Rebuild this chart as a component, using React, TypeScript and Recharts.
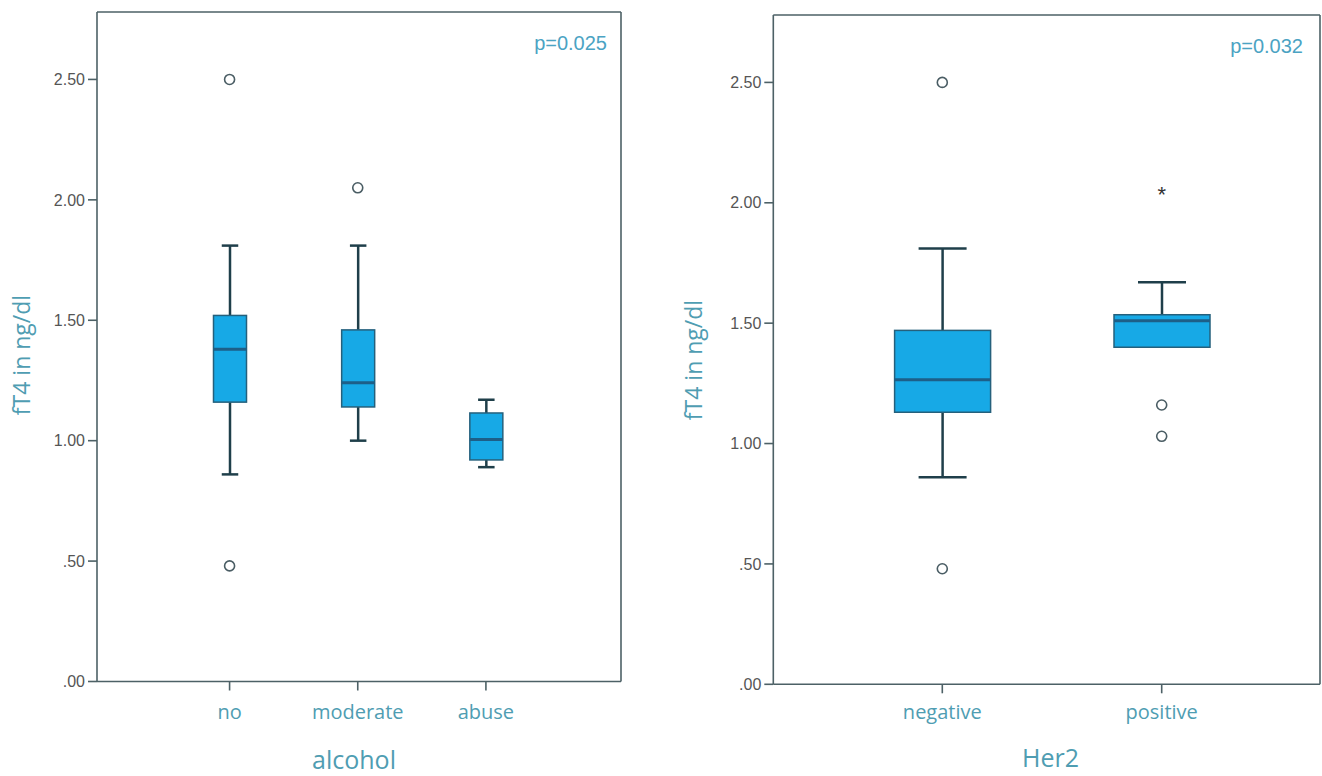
import React from 'react';
import { ComposedChart, Bar, Line, XAxis, YAxis, CartesianGrid } from 'recharts';

// ---------- data ----------
const alcoholCategories = ['no', 'moderate', 'abuse'];
const alcoholMin = [0.86, 1.0, 0.89];
const alcoholQ1 = [1.16, 1.14, 0.92];
const alcoholMedian = [1.38, 1.24, 1.005];
const alcoholQ3 = [1.52, 1.46, 1.115];
const alcoholMax = [1.81, 1.81, 1.17];
const alcoholOutlierHigh = [2.5, 2.05, null];
const alcoholOutlierLow = [0.48, null, null];
const alcoholOutlierLow2 = [null, null, null];
const alcoholExtreme = [null, null, null];

const her2Categories = ['negative', 'positive'];
const her2Min = [0.86, 1.4];
const her2Q1 = [1.13, 1.4];
const her2Median = [1.265, 1.51];
const her2Q3 = [1.47, 1.535];
const her2Max = [1.81, 1.67];
const her2OutlierHigh = [2.5, null];
const her2OutlierLow = [0.48, 1.03];
const her2OutlierLow2 = [null, 1.16];
const her2Extreme = [null, 2.05];

const yTickValues = [0, 0.5, 1, 1.5, 2, 2.5];
const yTickLabels = ['.00', '.50', '1.00', '1.50', '2.00', '2.50'];
const yDomainMax = 2.78;

// ---------- styles ----------
const AXIS_COLOR = '#4d6166';
const TICK_COLOR = '#555555';
const LABEL_COLOR = '#4f9db2';
const P_COLOR = '#4ba3c3';
const BOX_FILL = '#17a9e6';
const BOX_STROKE = '#25607c';
const WHISKER = '#1f3f4a';
const MEDIAN = '#1d5f88';
const OUTLIER = '#4a5d64';

type Row = {
  name: string;
  min: number;
  q1: number;
  median: number;
  q3: number;
  max: number;
  range: [number, number];
  outHigh: number | null;
  outLow: number | null;
  outLow2: number | null;
  extreme: number | null;
};

function buildRows(
  cats: string[],
  min: number[],
  q1: number[],
  med: number[],
  q3: number[],
  max: number[],
  outHigh: (number | null)[],
  outLow: (number | null)[],
  outLow2: (number | null)[],
  extreme: (number | null)[]
): Row[] {
  return cats.map((name, i) => ({
    name,
    min: min[i],
    q1: q1[i],
    median: med[i],
    q3: q3[i],
    max: max[i],
    range: [min[i], max[i]],
    outHigh: outHigh[i],
    outLow: outLow[i],
    outLow2: outLow2[i],
    extreme: extreme[i],
  }));
}

const alcoholRows = buildRows(
  alcoholCategories, alcoholMin, alcoholQ1, alcoholMedian, alcoholQ3, alcoholMax,
  alcoholOutlierHigh, alcoholOutlierLow, alcoholOutlierLow2, alcoholExtreme
);
const her2Rows = buildRows(
  her2Categories, her2Min, her2Q1, her2Median, her2Q3, her2Max,
  her2OutlierHigh, her2OutlierLow, her2OutlierLow2, her2Extreme
);

// Box shape: derives all inner positions from the bar's [min, max] geometry (linear scale)
const BoxShape = (props: any) => {
  const { x, y, width, height, payload } = props;
  if (x == null || y == null || !payload) return <g />;
  const top = Math.min(y, y + height);
  const h = Math.abs(height);
  const span = payload.max - payload.min;
  const py = (v: number) => (span === 0 ? top : top + ((payload.max - v) / span) * h);
  const cx = x + width / 2;
  const cap = width / 4;
  const yMax = py(payload.max);
  const yQ3 = py(payload.q3);
  const yMed = py(payload.median);
  const yQ1 = py(payload.q1);
  const yMin = py(payload.min);
  return (
    <g>
      {payload.max > payload.q3 && (
        <g>
          <line x1={cx} x2={cx} y1={yMax} y2={yQ3} stroke={WHISKER} strokeWidth={2.5} />
          <line x1={cx - cap} x2={cx + cap} y1={yMax} y2={yMax} stroke={WHISKER} strokeWidth={2.5} />
        </g>
      )}
      {payload.min < payload.q1 && (
        <g>
          <line x1={cx} x2={cx} y1={yQ1} y2={yMin} stroke={WHISKER} strokeWidth={2.5} />
          <line x1={cx - cap} x2={cx + cap} y1={yMin} y2={yMin} stroke={WHISKER} strokeWidth={2.5} />
        </g>
      )}
      <rect x={x} y={yQ3} width={width} height={yQ1 - yQ3} fill={BOX_FILL} stroke={BOX_STROKE} strokeWidth={1.5} />
      <line x1={x} x2={x + width} y1={yMed} y2={yMed} stroke={MEDIAN} strokeWidth={3} />
    </g>
  );
};

const circleDot = (props: any) => {
  const { cx, cy, value, index } = props;
  if (value == null || cy == null || isNaN(cy)) return <g key={`e${index}`} />;
  return <circle key={`c${index}`} cx={cx} cy={cy} r={5} fill="#ffffff" stroke={OUTLIER} strokeWidth={1.6} />;
};

const starDot = (props: any) => {
  const { cx, cy, value, index } = props;
  if (value == null || cy == null || isNaN(cy)) return <g key={`e${index}`} />;
  return (
    <text key={`s${index}`} x={cx} y={cy + 11} textAnchor="middle" fontSize={22} fill="#333" fontFamily="Liberation Sans, Arial, sans-serif">
      *
    </text>
  );
};

type PanelProps = {
  rows: Row[];
  width: number;
  height: number;
  margin: { top: number; right: number; bottom: number; left: number };
  yAxisWidth: number;
  xAxisHeight: number;
  padding: { left: number; right: number };
  barSize: number;
  xTickMargin: number;
  xTitle: string;
  xTitleX: number;
  xTitleY: number;
  yTitle: string;
  yTitleX: number;
  yTitleY: number;
  pText: string;
  pX: number;
  pY: number;
};

function BoxPanel(p: PanelProps) {
  const axisLine = { stroke: AXIS_COLOR, strokeWidth: 1.6 };
  const tickLine = { stroke: AXIS_COLOR, strokeWidth: 1.6 };
  const plotRight = p.width - p.margin.right;
  const plotTop = p.margin.top;
  return (
    <ComposedChart width={p.width} height={p.height} data={p.rows} margin={p.margin}>
      <CartesianGrid
        stroke={AXIS_COLOR}
        strokeWidth={1.6}
        fill="none"
        horizontalCoordinatesGenerator={(args: any) =>
          args && args.offset ? [args.offset.top] : [plotTop]
        }
        verticalCoordinatesGenerator={(args: any) =>
          args && args.offset ? [args.offset.left + args.offset.width] : [plotRight]
        }
      />
      <XAxis
        dataKey="name"
        type="category"
        height={p.xAxisHeight}
        padding={p.padding}
        axisLine={axisLine}
        tickLine={tickLine}
        tickSize={9}
        tickMargin={p.xTickMargin}
        interval={0}
        tick={{ fill: LABEL_COLOR, fontSize: 20, fontFamily: 'Open Sans, sans-serif' }}
        label={() => (
          <text x={p.xTitleX} y={p.xTitleY} textAnchor="middle" fontSize={25} fill={LABEL_COLOR} fontFamily="Open Sans, sans-serif">
            {p.xTitle}
          </text>
        )}
      />
      <YAxis
        type="number"
        domain={[0, yDomainMax]}
        ticks={yTickValues}
        width={p.yAxisWidth}
        axisLine={axisLine}
        tickLine={tickLine}
        tickSize={9}
        tickMargin={3}
        interval={0}
        tickFormatter={(v: number) => yTickLabels[yTickValues.indexOf(v)] ?? ''}
        tick={{ fill: TICK_COLOR, fontSize: 16, fontFamily: 'Liberation Sans, Arial, sans-serif' }}
        label={() => (
          <g>
            <text
              x={p.yTitleX}
              y={p.yTitleY}
              transform={`rotate(-90, ${p.yTitleX}, ${p.yTitleY})`}
              textAnchor="middle"
              dominantBaseline="central"
              fontSize={23}
              fill={LABEL_COLOR}
              fontFamily="Open Sans, sans-serif"
            >
              {p.yTitle}
            </text>
            <text x={p.pX} y={p.pY} textAnchor="end" fontSize={20} fill={P_COLOR} fontFamily="Liberation Sans, Arial, sans-serif">
              {p.pText}
            </text>
          </g>
        )}
      />
      <Bar dataKey="range" barSize={p.barSize} shape={BoxShape} isAnimationActive={false} />
      <Line dataKey="outHigh" stroke="none" dot={circleDot} activeDot={false} isAnimationActive={false} />
      <Line dataKey="outLow" stroke="none" dot={circleDot} activeDot={false} isAnimationActive={false} />
      <Line dataKey="outLow2" stroke="none" dot={circleDot} activeDot={false} isAnimationActive={false} />
      <Line dataKey="extreme" stroke="none" dot={starDot} activeDot={false} isAnimationActive={false} />
    </ComposedChart>
  );
}

export default function App() {
  return (
    <div style={{ position: 'absolute', left: 0, top: 0, width: 1322, height: 776, background: '#ffffff', overflow: 'hidden' }}>
      <div style={{ position: 'absolute', left: 0, top: 0 }}>
        <BoxPanel
          rows={alcoholRows}
          width={660}
          height={776}
          margin={{ top: 12, right: 39, bottom: 0, left: 0 }}
          yAxisWidth={97}
          xAxisHeight={94.5}
          padding={{ left: 68.5, right: 71 }}
          barSize={33}
          xTickMargin={14}
          xTitle="alcohol"
          xTitleX={354}
          xTitleY={769}
          yTitle="fT4 in ng/dl"
          yTitleX={21}
          yTitleY={355}
          pText="p=0.025"
          pX={607}
          pY={50}
        />
      </div>
      <div style={{ position: 'absolute', left: 660, top: 0 }}>
        <BoxPanel
          rows={her2Rows}
          width={662}
          height={776}
          margin={{ top: 15, right: 2, bottom: 0, left: 0 }}
          yAxisWidth={113.3}
          xAxisHeight={91.7}
          padding={{ left: 59.3, right: 48.6 }}
          barSize={96}
          xTickMargin={11}
          xTitle="Her2"
          xTitleX={390.5}
          xTitleY={767}
          yTitle="fT4 in ng/dl"
          yTitleX={32.5}
          yTitleY={360}
          pText="p=0.032"
          pX={643}
          pY={53}
        />
      </div>
    </div>
  );
}
